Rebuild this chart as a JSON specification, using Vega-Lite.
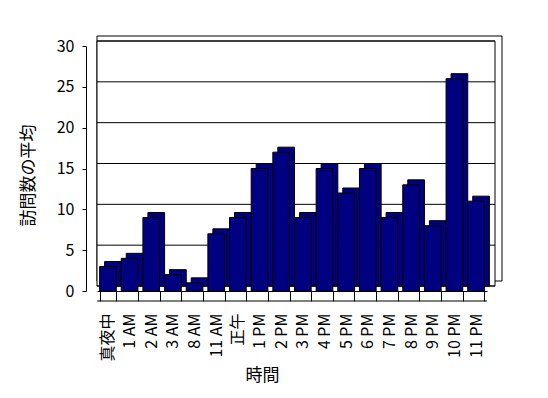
{
  "$schema": "https://vega.github.io/schema/vega-lite/v6.json",
  "width": 390,
  "height": 245,
  "autosize": {"type": "none"},
  "padding": {"left": 97, "top": 46, "right": 61, "bottom": 107},
  "background": "white",
  "config": {
    "view": {"stroke": null},
    "font": "Noto Sans CJK JP",
    "axis": {"labelFont": "Noto Sans CJK JP", "titleFont": "Noto Sans CJK JP", "labelColor": "black", "titleColor": "black", "domainColor": "black", "tickColor": "black", "labelFontSize": 16, "titleFontSize": 17, "titleFontWeight": "normal"}
  },
  "datasets": {
    "visits": [
      {"time": "真夜中", "avg": 3},
      {"time": "1 AM", "avg": 4},
      {"time": "2 AM", "avg": 9},
      {"time": "3 AM", "avg": 2},
      {"time": "8 AM", "avg": 1},
      {"time": "11 AM", "avg": 7},
      {"time": "正午", "avg": 9},
      {"time": "1 PM", "avg": 15},
      {"time": "2 PM", "avg": 17},
      {"time": "3 PM", "avg": 9},
      {"time": "4 PM", "avg": 15},
      {"time": "5 PM", "avg": 12},
      {"time": "6 PM", "avg": 15},
      {"time": "7 PM", "avg": 9},
      {"time": "8 PM", "avg": 13},
      {"time": "9 PM", "avg": 8},
      {"time": "10 PM", "avg": 26},
      {"time": "11 PM", "avg": 11}
    ],
    "grid": [{"v": 0}, {"v": 5}, {"v": 10}, {"v": 15}, {"v": 20}, {"v": 25}, {"v": 30}],
    "wall": [{"lo": 0, "hi": 30}]
  },
  "layer": [
    {
      "data": {"name": "wall"},
      "mark": {"type": "rect", "fill": "white", "stroke": "black", "strokeWidth": 1, "xOffset": 15, "x2Offset": 15, "yOffset": -10, "y2Offset": -10},
      "encoding": {
        "y": {"field": "lo", "type": "quantitative", "title": "訪問数の平均", "scale": {"domain": [0, 30], "nice": false}},
        "y2": {"field": "hi"}
      }
    },
    {
      "data": {"name": "wall"},
      "mark": {"type": "rect", "fill": "white", "stroke": "black", "strokeWidth": 1, "xOffset": 8, "x2Offset": 8, "yOffset": -5, "y2Offset": -5},
      "encoding": {
        "y": {"field": "lo", "type": "quantitative", "title": "訪問数の平均"},
        "y2": {"field": "hi"}
      }
    },
    {
      "data": {"name": "grid"},
      "mark": {"type": "rule", "color": "black", "strokeWidth": 1, "xOffset": 8, "x2Offset": 8, "yOffset": -5, "y2Offset": -5},
      "encoding": {
        "y": {"field": "v", "type": "quantitative", "title": "訪問数の平均"}
      }
    },
    {
      "data": {"name": "visits"},
      "mark": {"type": "bar", "color": "#000080", "stroke": "black", "strokeWidth": 1, "xOffset": 5, "x2Offset": 5, "yOffset": -5, "y2Offset": -5},
      "encoding": {
        "x": {"field": "time", "type": "nominal", "sort": null, "title": "時間", "scale": {"paddingInner": 0.23, "paddingOuter": 0.12}},
        "y": {"field": "avg", "type": "quantitative", "title": "訪問数の平均"}
      }
    },
    {
      "data": {"name": "visits"},
      "mark": {"type": "bar", "color": "#000080", "stroke": "black", "strokeWidth": 1},
      "encoding": {
        "x": {
          "field": "time", "type": "nominal", "sort": null, "title": "時間",
          "axis": {"labelAngle": -90, "tickBand": "extent", "tickSize": 10, "labelPadding": 12, "domainColor": "black", "titleX": 165, "titleY": 84, "titleBaseline": "middle", "titleAnchor": null}
        },
        "y": {
          "field": "avg", "type": "quantitative", "title": "訪問数の平均",
          "axis": {"values": [0, 5, 10, 15, 20, 25, 30], "grid": false, "offset": 11, "tickSize": 4, "labelPadding": 8, "titleX": -58, "titleY": 129, "titleBaseline": "middle", "titleAlign": "center"}
        }
      }
    },
    {
      "data": {"values": [{}]},
      "mark": {"type": "rule", "color": "black", "strokeWidth": 1, "yOffset": 10, "y2Offset": 10},
      "encoding": {"y": {"datum": 0}}
    }
  ]
}
